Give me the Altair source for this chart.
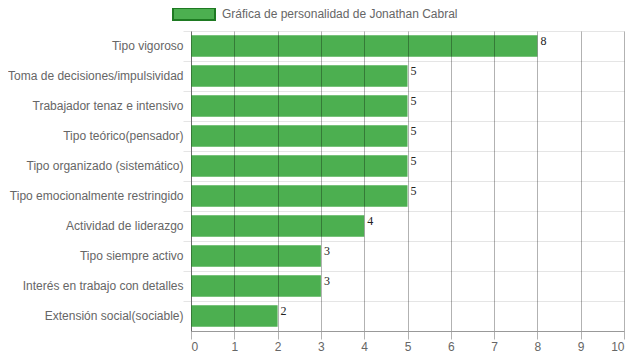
import altair as alt
import pandas as pd

categories = [
    "Tipo vigoroso",
    "Toma de decisiones/impulsividad",
    "Trabajador tenaz e intensivo",
    "Tipo teórico(pensador)",
    "Tipo organizado (sistemático)",
    "Tipo emocionalmente restringido",
    "Actividad de liderazgo",
    "Tipo siempre activo",
    "Interés en trabajo con detalles",
    "Extensión social(sociable)",
]
values = [8, 5, 5, 5, 5, 5, 4, 3, 3, 2]
series_name = "Gráfica de personalidad de Jonathan Cabral"
x_ticks = list(range(0, 11))

df = pd.DataFrame({"cat": categories, "val": values, "serie": [series_name] * len(values)})

y_enc = alt.Y(
    "cat:N",
    sort=categories,
    title=None,
    scale=alt.Scale(paddingInner=0, paddingOuter=0),
    axis=alt.Axis(
        bandPosition=0,
        grid=True,
        gridColor="rgba(0,0,0,0.1)",
        tickColor="rgba(0,0,0,0.1)",
        tickSize=8,
        labelPadding=0,
        labelFont="Liberation Sans",
        labelFontSize=12,
        labelColor="#666666",
        labelLimit=300,
        domainColor="#999999",
    ),
)

x_scale = alt.Scale(domain=[0, 10], nice=False)

bars = alt.Chart(df).mark_bar(
    height=alt.RelativeBandSize(0.72),
    fillOpacity=1,
    strokeWidth=0,
).encode(
    y=y_enc,
    x=alt.X(
        "val:Q",
        scale=x_scale,
        title=None,
        axis=alt.Axis(
            values=x_ticks,
            grid=True,
            gridColor="rgba(0,0,0,0.3)",
            tickColor="rgba(0,0,0,0.3)",
            tickSize=8,
            labelPadding=2,
            labelFont="Liberation Sans",
            labelFontSize=12,
            labelColor="#666666",
            domainColor="#999999",
            zindex=1,
        ),
    ),
    color=alt.Color(
        "serie:N",
        scale=alt.Scale(range=["#4caf50"]),
        legend=alt.Legend(
            title=None,
            orient="none",
            legendX=-19,
            legendY=-39,
            symbolType="M-1,-0.2857L1,-0.2857L1,0.2857L-1,0.2857Z",
            symbolSize=1764,
            symbolFillColor="#4cb050",
            symbolStrokeColor="#1e7a22",
            symbolStrokeWidth=2,
            symbolOpacity=1,
            labelFont="Liberation Sans",
            labelFontSize=12,
            labelColor="#666666",
            labelOffset=6,
            labelLimit=400,
        ),
    ),
)

labels = alt.Chart(df).mark_text(
    align="left",
    baseline="middle",
    dx=3,
    dy=-5,
    font="Liberation Serif",
    fontSize=12,
    color="#222222",
).encode(
    y=alt.Y("cat:N", sort=categories),
    x=alt.X("val:Q", scale=x_scale),
    text="val:Q",
)

chart = (
    alt.layer(bars, labels)
    .properties(
        width=433,
        height=300,
        autosize=alt.AutoSizeParams(type="none"),
        padding={"left": 183, "top": 23, "right": 7, "bottom": 21},
    )
    .configure_view(stroke=None)
)

chart.save("out.html", embed_options={"renderer": "svg", "actions": False})
